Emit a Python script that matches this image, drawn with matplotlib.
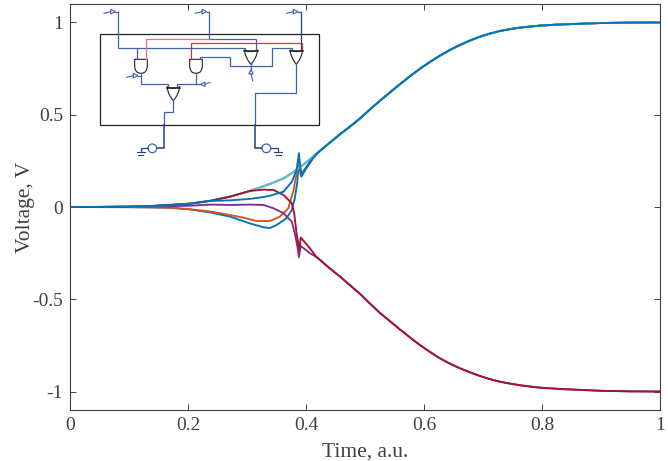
import matplotlib
matplotlib.use("Agg")
import matplotlib.pyplot as plt
from matplotlib.patches import Circle, PathPatch, Polygon, Rectangle
from matplotlib.path import Path

plt.rcParams["font.family"] = ["Liberation Serif", "DejaVu Serif"]

# curves, (time, voltage)
t_start = [0, 0.05, 0.1, 0.136, 0.169, 0.203, 0.237, 0.271, 0.305]
v_start = [0, 0.0005, 0.002, 0.005, 0.011, 0.018, 0.033, 0.056, 0.087]
t_rise = [0.339, 0.362, 0.379, 0.395, 0.41, 0.424, 0.44, 0.458, 0.475, 0.492, 0.508, 0.525, 0.542, 0.559, 0.576,
          0.593, 0.61, 0.627, 0.644, 0.661, 0.678, 0.695, 0.712, 0.729, 0.746, 0.763, 0.78, 0.797, 0.83, 0.865,
          0.9, 0.95, 1.0]
v_rise = [0.125, 0.155, 0.19, 0.228, 0.268, 0.305, 0.348, 0.395, 0.437, 0.481, 0.528, 0.575, 0.62, 0.665, 0.708,
          0.749, 0.786, 0.82, 0.851, 0.878, 0.902, 0.923, 0.94, 0.954, 0.964, 0.972, 0.978, 0.983, 0.989, 0.993,
          0.997, 0.999, 1.0]
t_up_tail = t_rise[5:]
v_up_tail = v_rise[5:]
t_fall = [0.424, 0.44, 0.458, 0.475, 0.492, 0.508, 0.525, 0.542, 0.559, 0.576, 0.593, 0.61, 0.627, 0.644, 0.661,
          0.678, 0.695, 0.712, 0.729, 0.746, 0.763, 0.78, 0.797, 0.83, 0.865, 0.9, 0.95, 1.0]
v_fall = [-0.287, -0.332, -0.378, -0.425, -0.472, -0.522, -0.573, -0.618, -0.663, -0.706, -0.748, -0.785, -0.82,
          -0.849, -0.874, -0.896, -0.916, -0.933, -0.947, -0.957, -0.966, -0.973, -0.979, -0.986, -0.991, -0.996,
          -0.999, -1.0]

t_blue_low = [0, 0.05, 0.1, 0.136, 0.169, 0.203, 0.237, 0.271, 0.305, 0.328, 0.339, 0.35, 0.367, 0.376, 0.381,
              0.385, 0.388, 0.391, 0.4, 0.412]
v_blue_low = [0, -0.0005, -0.001, -0.002, -0.004, -0.013, -0.029, -0.052, -0.089, -0.11, -0.114, -0.098, -0.061,
              -0.016, 0.047, 0.128, 0.25, 0.175, 0.215, 0.268]
t_orange = [0, 0.05, 0.1, 0.136, 0.169, 0.203, 0.237, 0.271, 0.294, 0.316, 0.339, 0.356, 0.37, 0.379, 0.383,
            0.388, 0.393, 0.407, 0.415]
v_orange = [0, -0.0005, -0.001, -0.002, -0.004, -0.012, -0.024, -0.043, -0.058, -0.076, -0.076, -0.052, -0.007,
            0.092, 0.164, 0.235, 0.18, 0.238, 0.282]
t_purple = [0, 0.05, 0.1, 0.136, 0.169, 0.203, 0.237, 0.271, 0.305, 0.328, 0.345, 0.362, 0.376, 0.381, 0.385,
            0.388, 0.391, 0.407, 0.416]
v_purple = [0, 0.0003, 0.001, 0.002, 0.004, 0.007, 0.013, 0.011, 0.013, 0.011, -0.007, -0.034, -0.08, -0.143,
            -0.206, -0.273, -0.211, -0.251, -0.268]
t_red = [0.328, 0.345, 0.362, 0.376, 0.38, 0.384, 0.389, 0.391, 0.407, 0.417]
v_red = [0.094, 0.092, 0.065, 0.02, -0.034, -0.143, -0.235, -0.165, -0.225, -0.268]
t_blue_up = [0.328, 0.339, 0.362, 0.376, 0.384, 0.388, 0.392, 0.407, 0.417]
v_blue_up = [0.054, 0.061, 0.083, 0.137, 0.2, 0.292, 0.164, 0.245, 0.285]
t_peak_lead = [0.271, 0.305]
v_blue_up_lead = [0.036, 0.044]

MATLAB = ["#0072BD", "#D95319", "#EDB120", "#7E2F8E", "#77AC30", "#4DBEEE", "#A2142F", "#0072BD"]
AXIS_COLOR = "#404040"
WIRE = "#4060A8"
DARK_WIRE = "#2A3F80"
RED_WIRE = "#E0303A"
LW = 1.35

W, H = 668, 461
fig = plt.figure(figsize=(W / 100, H / 100), dpi=100)
ax = fig.add_axes([70 / W, 1 - 410 / H, 590 / W, 406 / H])

ax.plot(t_blue_low + t_up_tail, v_blue_low + v_up_tail, color=MATLAB[0], lw=LW)
ax.plot(t_orange + t_up_tail, v_orange + v_up_tail, color=MATLAB[1], lw=LW)
ax.plot(t_start + t_rise, v_start + v_rise, color=MATLAB[2], lw=LW)
ax.plot(t_purple + t_fall, v_purple + v_fall, color=MATLAB[3], lw=LW)
ax.plot(t_start + t_rise, v_start + v_rise, color=MATLAB[4], lw=LW)
ax.plot(t_start + t_rise, v_start + v_rise, color=MATLAB[5], lw=LW)
ax.plot(t_start + t_red + t_fall, v_start + v_red + v_fall, color=MATLAB[6], lw=LW)
ax.plot(t_start[:7] + t_peak_lead + t_blue_up + t_up_tail, v_start[:7] + v_blue_up_lead + v_blue_up + v_up_tail,
        color=MATLAB[7], lw=LW)

ax.set_xlim(0, 1)
ax.set_ylim(-1.1, 1.1)
ax.set_xticks([0, 0.2, 0.4, 0.6, 0.8, 1])
ax.set_xticklabels(["0", "0.2", "0.4", "0.6", "0.8", "1"])
ax.set_yticks([-1, -0.5, 0, 0.5, 1])
ax.set_yticklabels(["-1", "-0.5", "0", "0.5", "1"])
ax.tick_params(direction="in", top=True, right=True, length=4.3, width=0.7,
               labelsize=14, color=AXIS_COLOR, labelcolor=AXIS_COLOR, pad=5)
for spine in ax.spines.values():
    spine.set_linewidth(0.8)
    spine.set_color(AXIS_COLOR)
ax.set_xlabel("Time, a.u.", fontsize=15.5, color=AXIS_COLOR, labelpad=6)
ax.set_ylabel("Voltage, V", fontsize=15.5, color=AXIS_COLOR, labelpad=-2)

# schematic overlay, coordinates are picture pixels
sch = fig.add_axes([0, 0, 1, 1], facecolor="none")
sch.set_xlim(0, W)
sch.set_ylim(H, 0)
sch.axis("off")


def wire(points, color=WIRE, lw=0.9):
    xs = [90 + p[0] / 3 for p in points]
    ys = [p[1] / 3 for p in points]
    sch.plot(xs, ys, color=color, lw=lw, solid_joinstyle="miter")


def _shift(verts):
    return [(90 + x / 3, y / 3) for x, y in verts]


def and_gate(x0, x1, y0, y1):
    verts = [(x0, y0), (x1, y0), (x1, y1 - 24), (x1, y1), (x0 + (x1 - x0) / 2, y1), (x0, y1), (x0, y1 - 24), (x0, y0)]
    codes = [Path.MOVETO, Path.LINETO, Path.LINETO, Path.CURVE3, Path.CURVE3, Path.CURVE3, Path.CURVE3, Path.LINETO]
    sch.add_patch(PathPatch(Path(_shift(verts), codes), fc="white", ec="#222222", lw=0.8))


def nor_gate(x0, x1, y0, y1):
    mid = (x0 + x1) / 2
    verts = [(x0, y0), (mid, y0 + 10), (x1, y0), (x1 - 3, y0 + 24), (mid, y1), (x0 + 3, y0 + 24), (x0, y0)]
    codes = [Path.MOVETO, Path.CURVE3, Path.CURVE3, Path.CURVE3, Path.CURVE3, Path.CURVE3, Path.CURVE3]
    sch.add_patch(PathPatch(Path(_shift(verts), codes), fc="white", ec="#222222", lw=0.8))
    sch.plot(*zip(*_shift([(x0, y0 + 3), (x1, y0 + 3)])), color="#222222", lw=1.1)


def pin(tip, base, tail):
    # small triangular port with a stub wire
    x0, y0 = tip
    x1, y1 = base
    dx, dy = (x1 - x0), (y1 - y0)
    nx, ny = dy * 0.5, dx * 0.5
    sch.add_patch(Polygon(_shift([(x1, y1), (x0 + nx, y0 + ny), (x0 - nx, y0 - ny)]),
                          closed=True, fc="white", ec=WIRE, lw=0.8))
    wire([tip, tail], lw=0.8)


def ground(x, y):
    wire([(x - 12, y), (x + 12, y)], color=DARK_WIRE, lw=0.8)
    wire([(x - 8, y + 8), (x + 8, y + 8)], color=DARK_WIRE, lw=0.8)


sch.add_patch(Rectangle((90 + 30 / 3, 103 / 3), 657 / 3, 273 / 3, fc="none", ec="#222222", lw=0.9))

wire([(85, 35), (85, 144), (465, 144), (465, 150)])
wire([(140, 144), (140, 178)])
wire([(358, 35), (358, 116), (497, 116), (497, 150)])
wire([(632, 35), (632, 150)], color=DARK_WIRE)
wire([(168, 178), (168, 116), (358, 116)], color="#F07078")
wire([(304, 178), (304, 130), (635, 130), (635, 150)], color=RED_WIRE)
wire([(330, 178), (330, 170), (420, 170), (420, 199), (545, 199), (545, 144), (605, 144), (605, 150)])
wire([(154, 218), (154, 253), (235, 253), (235, 260)])
wire([(318, 218), (318, 253), (262, 253), (262, 260)])
wire([(483, 190), (483, 210)])
wire([(249, 300), (249, 336), (222, 336), (222, 376)])
wire([(222, 376), (222, 445), (201, 445)], color=DARK_WIRE, lw=1.1)
wire([(618, 190), (618, 280), (496, 280), (496, 376)])
wire([(496, 376), (496, 445), (516, 445)], color=DARK_WIRE, lw=1.1)
wire([(174, 445), (152, 445), (152, 457)], color=DARK_WIRE)
wire([(543, 445), (565, 445), (565, 457)], color=DARK_WIRE)
ground(152, 457)
ground(565, 457)

for cx in (187, 529):
    sch.add_patch(Circle((90 + cx / 3, 445 / 3), 13 / 3, fc="white", ec=WIRE, lw=0.9))

and_gate(134, 172, 178, 220)
and_gate(299, 337, 178, 220)
nor_gate(231, 269, 260, 302)
nor_gate(463, 503, 150, 193)
nor_gate(600, 638, 150, 193)

pin((62, 35), (76, 35), (42, 40))
pin((336, 35), (350, 35), (316, 40))
pin((610, 35), (624, 35), (590, 40))
pin((130, 227), (144, 227), (110, 232))
pin((345, 253), (332, 253), (360, 247))
pin((483, 222), (483, 209), (488, 242))
wire([(76, 35), (85, 35)])
wire([(350, 35), (358, 35)])
wire([(624, 35), (632, 35)])
wire([(144, 227), (154, 227)])
wire([(318, 253), (332, 253)])

fig.savefig("out.png", dpi=100)
